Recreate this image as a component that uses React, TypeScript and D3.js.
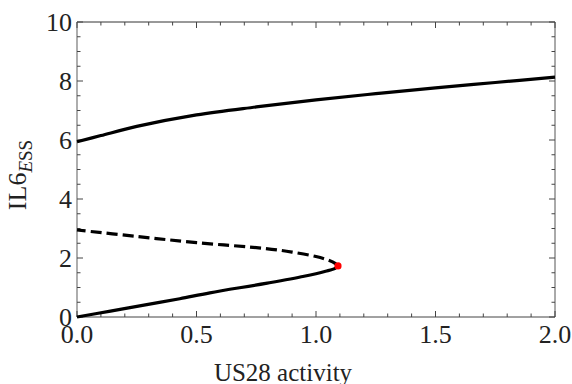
import React from 'react';
import * as d3 from 'd3';

// upper stable branch (US28 activity, IL6 level)
const upperX = [0, 0.1, 0.25, 0.5, 0.75, 1.0, 1.25, 1.5, 1.75, 2.0];
const upperY = [5.94, 6.15, 6.46, 6.85, 7.12, 7.36, 7.57, 7.77, 7.95, 8.13];

// lower stable branch, from origin up to the fold
const lowerX = [0, 0.14, 0.28, 0.43, 0.556, 0.79, 0.95, 1.04, 1.08, 1.092];
const lowerY = [0, 0.2, 0.4, 0.62, 0.82, 1.14, 1.38, 1.55, 1.65, 1.73];

// unstable branch, from the fold back to x = 0
const unstableX = [1.092, 1.08, 1.05, 1.0, 0.9, 0.79, 0.5, 0.25, 0];
const unstableY = [1.73, 1.82, 1.93, 2.05, 2.2, 2.32, 2.52, 2.73, 2.95];

const foldPoint = { x: 1.092, y: 1.73 };

const xTicks = [0, 0.5, 1.0, 1.5, 2.0];
const yTicks = [0, 2, 4, 6, 8, 10];

const W = 572;
const H = 384;
const margin = { top: 22, right: 17, bottom: 67, left: 77 };
const FONT = '"Liberation Serif", "Times New Roman", serif';

function zip(xs: number[], ys: number[]): [number, number][] {
  return xs.map((x, i) => [x, ys[i]]);
}

export default function App() {
  const x = d3.scaleLinear().domain([0, 2]).range([margin.left, W - margin.right]);
  const y = d3.scaleLinear().domain([0, 10]).range([H - margin.bottom, margin.top]);

  const line = d3.line<[number, number]>()
    .x((d) => x(d[0]))
    .y((d) => y(d[1]))
    .curve(d3.curveCatmullRom);

  const x0 = x(0);
  const x1 = x(2);
  const y0 = y(0);
  const y1 = y(10);

  const xMinor = d3.range(0, 2.0001, 0.1);
  const yMinor = d3.range(0, 10.0001, 0.5);
  const isMajorX = (v: number) => Math.abs(v * 2 - Math.round(v * 2)) < 1e-6;
  const isMajorY = (v: number) => Math.abs(v / 2 - Math.round(v / 2)) < 1e-6;

  return (
    <svg width={W} height={H} style={{ position: 'absolute', left: 0, top: 0, background: '#fff' }}>
      {/* frame */}
      <line x1={x0} x2={x1} y1={y1} y2={y1} stroke="#333" strokeWidth={1} />
      <line x1={x0} x2={x1} y1={y0} y2={y0} stroke="#444" strokeWidth={1} />
      <line x1={x0} x2={x0} y1={y1} y2={y0} stroke="#777" strokeWidth={1.2} />
      <line x1={x1} x2={x1} y1={y1} y2={y0} stroke="#555" strokeWidth={1} />

      {/* ticks */}
      {xMinor.map((v) => {
        const len = isMajorX(v) ? 6 : 3.5;
        return (
          <g key={`xt${v}`} stroke="#444" strokeWidth={1}>
            <line x1={x(v)} x2={x(v)} y1={y0} y2={y0 - len} />
            <line x1={x(v)} x2={x(v)} y1={y1} y2={y1 + len} />
          </g>
        );
      })}
      {yMinor.map((v) => {
        const len = isMajorY(v) ? 6 : 3.5;
        return (
          <g key={`yt${v}`} stroke="#444" strokeWidth={1}>
            <line x1={x0} x2={x0 + len} y1={y(v)} y2={y(v)} />
            <line x1={x1} x2={x1 - len} y1={y(v)} y2={y(v)} />
          </g>
        );
      })}

      {/* tick labels */}
      {xTicks.map((v) => (
        <text key={`xl${v}`} x={x(v)} y={343} textAnchor="middle" fontFamily={FONT} fontSize={26} fill="#222">
          {v.toFixed(1)}
        </text>
      ))}
      {yTicks.map((v) => (
        <text key={`yl${v}`} x={72} y={y(v)} dy="0.34em" textAnchor="end" fontFamily={FONT} fontSize={26} fill="#222">
          {v}
        </text>
      ))}

      {/* curves */}
      <path d={line(zip(upperX, upperY)) ?? ''} fill="none" stroke="#000" strokeWidth={3.2} />
      <path d={line(zip(lowerX, lowerY)) ?? ''} fill="none" stroke="#000" strokeWidth={3.2} />
      <path d={line(zip(unstableX, unstableY)) ?? ''} fill="none" stroke="#000" strokeWidth={3.2} strokeDasharray="11,5" />
      <circle cx={x(foldPoint.x)} cy={y(foldPoint.y)} r={3.6} fill="#f00" />

      {/* axis titles */}
      <text x={283} y={381} textAnchor="middle" fontFamily={FONT} fontSize={25} fill="#222">
        US28 activity
      </text>
      <text transform="translate(26,175) rotate(-90)" textAnchor="middle" fontFamily={FONT} fontSize={26} fill="#222">
        IL6
        <tspan fontSize={19} dy={6} fontStyle="italic">E</tspan>
        <tspan fontSize={19}>SS</tspan>
      </text>
    </svg>
  );
}
